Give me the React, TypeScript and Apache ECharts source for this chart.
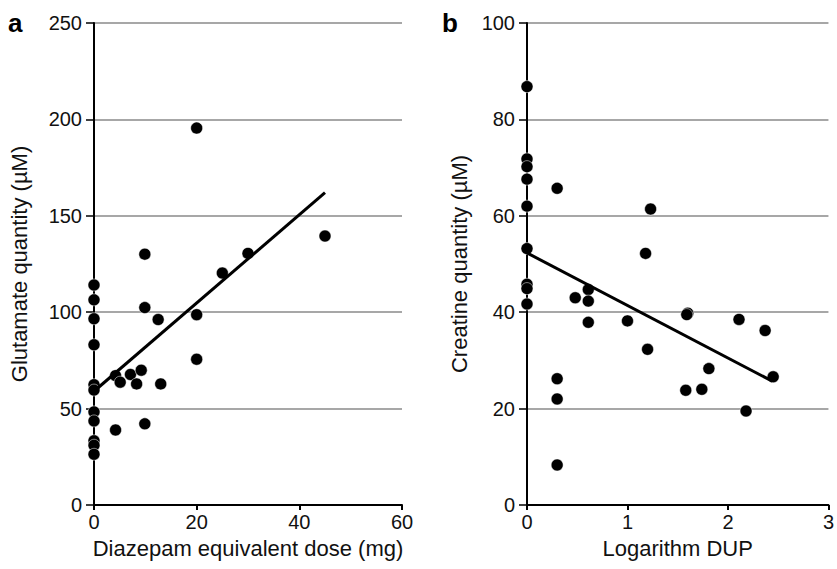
import React, { useEffect, useRef } from "react";
import * as echarts from "echarts";

// Panel a: diazepam equivalent dose (mg) vs glutamate (µM)
const doseMg = [0, 0, 0, 0, 0, 0, 0, 0, 0, 0, 0, 4.2, 4.2, 5.1, 7.1, 8.3, 9.2, 9.9, 9.9, 9.9, 12.5, 13.0, 20, 20, 20, 25, 30, 45];
const glutamate = [114.1, 106.4, 96.6, 83.1, 62.4, 59.6, 48.3, 43.6, 33.3, 31.0, 26.3, 38.9, 67.1, 63.7, 67.7, 62.8, 69.9, 130.1, 102.4, 42.1, 96.2, 62.8, 195.5, 98.7, 75.6, 120.3, 130.5, 139.5];
const fitA_x = [0, 45];
const fitA_y = [59, 162];

// Panel b: logarithm DUP vs creatine (µM)
const logDup = [0, 0, 0, 0, 0, 0, 0, 0, 0, 0.3, 0.3, 0.3, 0.3, 0.48, 0.61, 0.61, 0.61, 1.0, 1.18, 1.23, 1.2, 1.58, 1.6, 1.59, 1.74, 1.81, 2.11, 2.18, 2.37, 2.45];
const creatine = [86.8, 71.8, 70.2, 67.6, 62.0, 53.2, 45.8, 44.9, 41.7, 65.7, 26.2, 22.0, 8.3, 43.0, 44.7, 42.3, 37.9, 38.2, 52.2, 61.4, 32.3, 23.8, 39.8, 39.5, 24.0, 28.3, 38.5, 19.5, 36.2, 26.6];
const fitB_x = [0, 2.44];
const fitB_y = [52.3, 25.7];

const xTicksA = [0, 20, 40, 60];
const yTicksA = [0, 50, 100, 150, 200, 250];
const xTicksB = [0, 1, 2, 3];
const yTicksB = [0, 20, 40, 60, 80, 100];

const FONT = "Liberation Sans, Arial, sans-serif";
const TXT = "#111";

function axisX(gridIndex: number, ticks: number[], name: string) {
  return {
    type: "value",
    gridIndex,
    min: ticks[0],
    max: ticks[ticks.length - 1],
    interval: ticks[1] - ticks[0],
    name,
    nameLocation: "middle",
    nameGap: 32,
    nameTextStyle: { fontFamily: FONT, fontSize: 22, color: TXT },
    axisLine: { show: true, onZero: false, lineStyle: { color: "#000", width: 2 } },
    axisTick: { show: true, length: 5, lineStyle: { color: "#000", width: 2 } },
    axisLabel: { fontFamily: FONT, fontSize: 20, color: TXT, margin: 7 },
    splitLine: { show: false },
  };
}

function axisY(gridIndex: number, ticks: number[], name: string, gap: number) {
  return {
    type: "value",
    gridIndex,
    min: ticks[0],
    max: ticks[ticks.length - 1],
    interval: ticks[1] - ticks[0],
    name,
    nameLocation: "middle",
    nameGap: gap,
    nameTextStyle: { fontFamily: FONT, fontSize: 22, color: TXT },
    axisLine: { show: true, onZero: false, lineStyle: { color: "#000", width: 2 } },
    axisTick: { show: true, length: 8, lineStyle: { color: "#000", width: 1.5 } },
    axisLabel: { fontFamily: FONT, fontSize: 20, color: TXT, margin: 12 },
    splitLine: { show: true, lineStyle: { color: "#8a8a8a", width: 1.5 } },
  };
}

export default function App() {
  const ref = useRef<HTMLDivElement>(null);
  useEffect(() => {
    if (!ref.current) return;
    const chart = echarts.init(ref.current, null, { renderer: "svg" });
    chart.setOption({
      animation: false,
      backgroundColor: "#fff",
      grid: [
        { left: 94, right: 435, top: 23, bottom: 64 },
        { left: 527, right: 4, top: 23, bottom: 64 },
      ],
      xAxis: [
        axisX(0, xTicksA, "Diazepam equivalent dose (mg)"),
        axisX(1, xTicksB, "Logarithm DUP"),
      ],
      yAxis: [
        axisY(0, yTicksA, "Glutamate quantity (µM)", 64),
        axisY(1, yTicksB, "Creatine quantity (µM)", 57),
      ],
      graphic: [
        { type: "text", left: 8, top: 10, style: { text: "a", fontFamily: FONT, fontSize: 26, fontWeight: "bold", fill: "#000" } },
        { type: "text", left: 442, top: 10, style: { text: "b", fontFamily: FONT, fontSize: 26, fontWeight: "bold", fill: "#000" } },
      ],
      series: [
        {
          type: "scatter",
          xAxisIndex: 0,
          yAxisIndex: 0,
          symbolSize: 12,
          itemStyle: { color: "#000", opacity: 1, borderColor: "#fff", borderWidth: 0.5 },
          data: doseMg.map((x, i) => [x, glutamate[i]]),
          z: 3,
        },
        {
          type: "line",
          xAxisIndex: 0,
          yAxisIndex: 0,
          showSymbol: false,
          lineStyle: { color: "#000", width: 3 },
          data: fitA_x.map((x, i) => [x, fitA_y[i]]),
          z: 4,
        },
        {
          type: "scatter",
          xAxisIndex: 1,
          yAxisIndex: 1,
          symbolSize: 12,
          itemStyle: { color: "#000", opacity: 1, borderColor: "#fff", borderWidth: 0.5 },
          data: logDup.map((x, i) => [x, creatine[i]]),
          z: 3,
        },
        {
          type: "line",
          xAxisIndex: 1,
          yAxisIndex: 1,
          showSymbol: false,
          lineStyle: { color: "#000", width: 3 },
          data: fitB_x.map((x, i) => [x, fitB_y[i]]),
          z: 4,
        },
      ],
    });
    return () => chart.dispose();
  }, []);
  return <div ref={ref} style={{ width: 837, height: 569, position: "absolute", left: 0, top: 0 }} />;
}
